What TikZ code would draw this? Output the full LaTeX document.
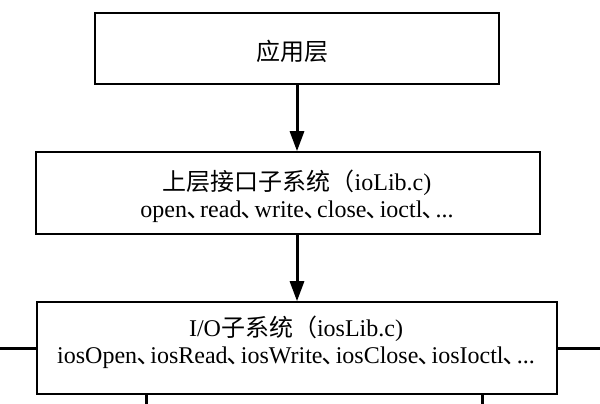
\documentclass[tikz,border=0pt]{standalone}
\usepackage{fontspec}
\setmainfont{Liberation Serif}
\newfontfamily\cjk{Noto Sans CJK SC}
\usetikzlibrary{arrows.meta}
\newcommand{\dun}{{\cjk ､}\kern0.05em}
\begin{document}
\begin{tikzpicture}[x=1pt,y=-1pt,
  layerbox/.style={draw, line width=1.6pt, inner sep=0pt},
  txt/.style={inner sep=0pt, anchor=base, font=\fontsize{24}{27}\selectfont},
  flow/.style={line width=3pt, -{Triangle[length=20pt,width=14pt]}},
  stub/.style={line width=3pt}]
\useasboundingbox (0,0) rectangle (600,404);
\node[layerbox, minimum width=404pt, minimum height=71pt] (app) at (297,48.5) {};
\node[layerbox, minimum width=504pt, minimum height=82pt] (iolib) at (288,193) {};
\node[layerbox, minimum width=520pt, minimum height=92pt] (ios) at (297,348) {};
\node[txt] (appt) at (292,61) {\cjk 应用层};
\node[txt] (iolibt) at (297,190) {{\cjk 上层接口子系统（}ioLib.c)};
\node[txt] (iolibf) at (297,217) {open\dun read\dun write\dun close\dun ioctl\dun ...};
\node[txt] (iost) at (296,336) {I/O{\cjk 子系统（}iosLib.c)};
\node[txt] (iosf) at (296,363) {iosOpen\dun iosRead\dun iosWrite\dun iosClose\dun iosIoctl\dun ...};
\draw[flow] (app.south) -- (app.south |- iolib.north);
\draw[flow] (app.south |- iolib.south) -- (app.south |- ios.north);
\coordinate (lend) at (0,348);
\coordinate (rend) at (600,348);
\coordinate (b1) at (146,404);
\coordinate (b2) at (482,404);
\draw[stub] (lend) -- (ios.west);
\draw[stub] (ios.east) -- (rend);
\draw[stub] (ios.south -| b1) -- (b1);
\draw[stub] (ios.south -| b2) -- (b2);
\end{tikzpicture}
\end{document}
